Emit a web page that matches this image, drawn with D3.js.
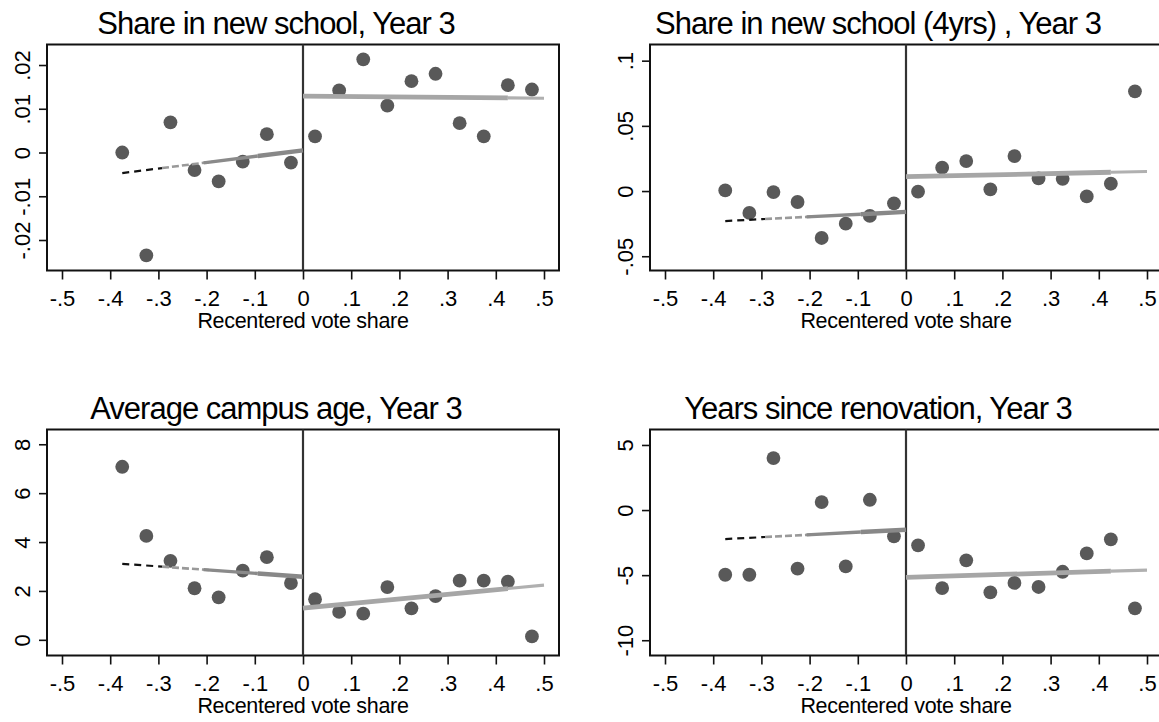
<!DOCTYPE html>
<html>
<head>
<meta charset="utf-8">
<script src="https://cdn.jsdelivr.net/npm/d3@7"></script>
<style>
  html, body { margin: 0; padding: 0; background: #fff; }
  svg { display: block; }
  text { font-family: "Liberation Sans", Arial, sans-serif; fill: #000; }
</style>
</head>
<body>
<svg id="chart" width="1159" height="722"></svg>
<script>
// ---------------- data ----------------
const titles = [
  "Share in new school, Year 3",
  "Share in new school (4yrs) , Year 3",
  "Average campus age, Year 3",
  "Years since renovation, Year 3"
];
const xLabel = "Recentered vote share";
const xTicks = [-0.5, -0.4, -0.3, -0.2, -0.1, 0, 0.1, 0.2, 0.3, 0.4, 0.5];
const binsLeft = [-0.375, -0.325, -0.275, -0.225, -0.175, -0.125, -0.075, -0.025];
const binsRight = [0.025, 0.075, 0.125, 0.175, 0.225, 0.275, 0.325, 0.375, 0.425, 0.475];

const yTicks = [
  [-0.02, -0.01, 0, 0.01, 0.02],
  [-0.05, 0, 0.05, 0.1],
  [0, 2, 4, 6, 8],
  [-10, -5, 0, 5]
];
const yDomains = [
  [-0.02697, 0.02469],
  [-0.06094, 0.1124],
  [-0.641, 8.604],
  [-11.173, 6.188]
];

// binned means
const leftVals = [
  [0.0000, -0.0235, 0.0069, -0.0040, -0.0066, -0.0021, 0.0042, -0.0023],
  [0.0005, -0.0168, -0.0008, -0.0084, -0.0360, -0.0250, -0.0191, -0.0094],
  [7.08, 4.25, 3.23, 2.11, 1.74, 2.83, 3.38, 2.32],
  [-4.97, -4.97, 3.99, -4.50, 0.61, -4.33, 0.79, -2.02]
];
const rightVals = [
  [0.0037, 0.0142, 0.0213, 0.0107, 0.0163, 0.0180, 0.0067, 0.0037, 0.0154, 0.0144],
  [-0.0005, 0.0179, 0.0230, 0.0013, 0.0268, 0.0097, 0.0094, -0.0041, 0.0056, 0.0765],
  [1.66, 1.14, 1.07, 2.16, 1.29, 1.79, 2.42, 2.42, 2.38, 0.14],
  [-2.71, -5.99, -3.86, -6.32, -5.60, -5.91, -4.74, -3.33, -2.25, -7.55]
];
// linear fits: [x0, y0, x1, y1]
const fitLeft = [
  [-0.375, -0.0047, 0, 0.0005],
  [-0.375, -0.0230, 0, -0.0160],
  [-0.375, 3.11, 0, 2.58],
  [-0.375, -2.23, 0, -1.51]
];
const fitRight = [
  [0, 0.0129, 0.5, 0.0124],
  [0, 0.0110, 0.5, 0.0150],
  [0, 1.30, 0.5, 2.24],
  [0, -5.17, 0.5, -4.61]
];

// ---------------- layout ----------------
const svg = d3.select("#chart");
const colLeft = [47, 650];
const rowTop = [44.5, 429.5];
const plotW = 512, plotH = 226;
const pad = 15;
const titleCenter = [276, 878];
const FONT = '"Liberation Sans", Arial, sans-serif';

function fmt(v) {
  if (Math.abs(v) < 1e-12) return "0";
  const s = String(+v.toFixed(4));
  return s.replace(/^(-?)0\./, "$1.");
}

for (let p = 0; p < 4; p++) {
  const col = p % 2, row = Math.floor(p / 2);
  const L = colLeft[col], T = rowTop[row];
  const g = svg.append("g");

  const x = d3.scaleLinear().domain([-0.5, 0.5]).range([L + pad, L + plotW - pad]);
  const y = d3.scaleLinear().domain(yDomains[p]).range([T + plotH, T]);

  // frame
  g.append("rect")
    .attr("x", L).attr("y", T).attr("width", plotW).attr("height", plotH)
    .attr("fill", "none").attr("stroke", "#111").attr("stroke-width", 2);

  // x axis
  const xa = g.append("g").attr("transform", `translate(0,${T + plotH})`)
    .call(d3.axisBottom(x).tickValues(xTicks).tickSize(9).tickFormat(fmt));
  xa.select(".domain").remove();
  xa.selectAll(".tick line").attr("stroke", "#111").attr("stroke-width", 1.6);
  xa.selectAll(".tick text")
    .attr("y", 35).attr("dy", null)
    .style("font-size", "22px").style("font-family", FONT)
    .attr("fill", "#000");

  // y axis
  const ya = g.append("g").attr("transform", `translate(${L},0)`)
    .call(d3.axisLeft(y).tickValues(yTicks[p]).tickSize(8).tickFormat(fmt));
  ya.select(".domain").remove();
  ya.selectAll(".tick line").attr("stroke", "#111").attr("stroke-width", 1.6);
  ya.selectAll(".tick text")
    .attr("x", null).attr("dy", null)
    .attr("text-anchor", "middle")
    .attr("transform", "translate(-17,0) rotate(-90)")
    .style("font-size", "22px").style("font-family", FONT)
    .attr("fill", "#000");

  // x label
  g.append("text")
    .attr("x", x(0)).attr("y", T + plotH + 57)
    .attr("text-anchor", "middle")
    .style("font-size", "21.5px").style("letter-spacing", "-0.3px")
    .text(xLabel);

  // title
  g.append("text")
    .attr("x", titleCenter[col]).attr("y", T - 11)
    .attr("text-anchor", "middle")
    .style("font-size", "31px").style("letter-spacing", "-1px")
    .text(titles[p]);

  // cutoff line
  g.append("line")
    .attr("x1", x(0)).attr("x2", x(0)).attr("y1", T).attr("y2", T + plotH)
    .attr("stroke", "#333").attr("stroke-width", 2.2);

  // dots
  const pts = binsLeft.map((b, i) => [b, leftVals[p][i]])
    .concat(binsRight.map((b, i) => [b, rightVals[p][i]]));
  g.selectAll("circle.dot").data(pts).enter().append("circle")
    .attr("class", "dot")
    .attr("cx", d => x(d[0])).attr("cy", d => y(d[1])).attr("r", 6.9)
    .attr("fill", "#595959");

  // left fit: black dashed -> grey dashed -> solid grey
  const fl = fitLeft[p];
  const lerp = t => [fl[0] + (fl[2] - fl[0]) * t, fl[1] + (fl[3] - fl[1]) * t];
  function seg(t0, t1, color, w, dash) {
    const a = lerp(t0), b = lerp(t1);
    const ln = g.append("line")
      .attr("x1", x(a[0])).attr("y1", y(a[1]))
      .attr("x2", x(b[0])).attr("y2", y(b[1]))
      .attr("stroke", color).attr("stroke-width", w);
    if (dash) ln.attr("stroke-dasharray", dash);
  }
  seg(0, 0.22, "#111", 2.2, "7,5");
  seg(0.22, 0.5, "#999", 2.6, "7,3");
  seg(0.45, 0.75, "#8a8a8a", 3.4, null);
  seg(0.75, 1, "#888", 4.4, null);

  // right fit
  const fr = fitRight[p];
  const rl = t => [fr[0] + (fr[2] - fr[0]) * t, fr[1] + (fr[3] - fr[1]) * t];
  const a0 = rl(0), a1 = rl(0.85), a2 = rl(1);
  g.append("line")
    .attr("x1", x(a0[0])).attr("y1", y(a0[1])).attr("x2", x(a1[0])).attr("y2", y(a1[1]))
    .attr("stroke", "#a6a6a6").attr("stroke-width", 4.8);
  g.append("line")
    .attr("x1", x(a1[0])).attr("y1", y(a1[1])).attr("x2", x(a2[0])).attr("y2", y(a2[1]))
    .attr("stroke", "#b0b0b0").attr("stroke-width", 3.2);
}
</script>
</body>
</html>
